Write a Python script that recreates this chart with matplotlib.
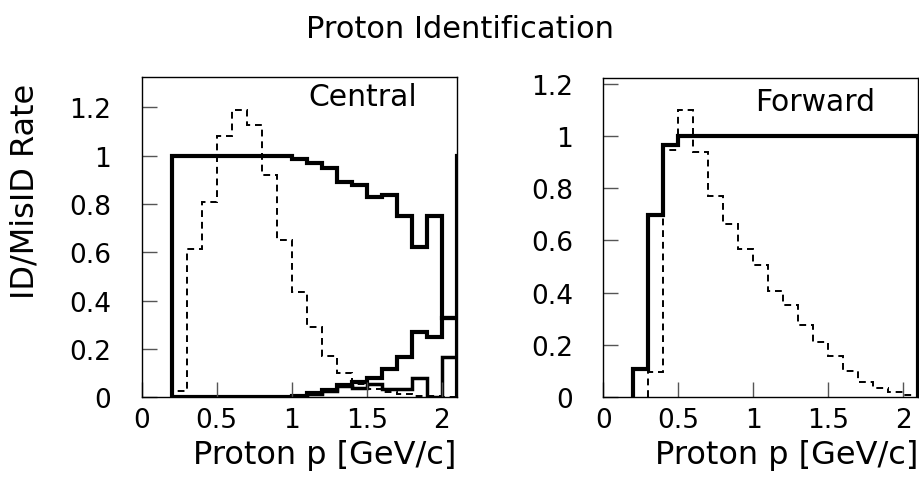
import matplotlib
matplotlib.use("Agg")
import matplotlib.pyplot as plt

# bin edges (GeV/c), 0.1 wide
central_edges = [0.2, 0.3, 0.4, 0.5, 0.6, 0.7, 0.8, 0.9, 1.0, 1.1, 1.2,
                 1.3, 1.4, 1.5, 1.6, 1.7, 1.8, 1.9, 2.0, 2.1, 2.2]
# central: proton ID rate and two misID rates, plus momentum spectrum (dashed)
central_id = [1.0, 1.0, 1.0, 1.0, 1.0, 1.0, 1.0, 0.997, 0.986, 0.969,
              0.947, 0.892, 0.878, 0.83, 0.837, 0.75, 0.62, 0.75, 0.33, 1.0]
central_mis1 = [0, 0, 0, 0, 0, 0, 0, 0, 0.005, 0.017,
                0.03, 0.05, 0.062, 0.08, 0.117, 0.165, 0.27, 0.25, 0.33, 0]
central_mis2 = [0, 0, 0, 0, 0, 0, 0, 0, 0.003, 0.012,
                0.025, 0.045, 0.04, 0.055, 0.034, 0.034, 0.08, 0.0, 0.165, 0]
central_spec = [0.028, 0.614, 0.807, 1.082, 1.19, 1.127, 0.92, 0.652, 0.437, 0.29,
                0.17, 0.10, 0.055, 0.034, 0.02, 0.014, 0.006, 0.004, 0.002, 0]

forward_id_edges = [0.2, 0.3, 0.4, 0.5, 2.1]
forward_id = [0.108, 0.698, 0.966, 1.0]
forward_spec_edges = [0.3, 0.4, 0.5, 0.6, 0.7, 0.8, 0.9, 1.0, 1.1, 1.2, 1.3,
                      1.4, 1.5, 1.6, 1.7, 1.8, 1.9, 2.0, 2.1]
forward_spec = [0.096, 0.947, 1.1, 0.937, 0.771, 0.663, 0.567, 0.506, 0.408,
                0.353, 0.278, 0.213, 0.159, 0.102, 0.06, 0.034, 0.019, 0.007]

xticks = [0, 0.5, 1, 1.5, 2]
xticklabels = ["0", "0.5", "1", "1.5", "2"]
yticks = [0, 0.2, 0.4, 0.6, 0.8, 1.0, 1.2]
yticklabels = ["0", "0.2", "0.4", "0.6", "0.8", "1", "1.2"]

plt.rcParams['font.family'] = ['DejaVu Sans']
fs = 19
dash = (0, (3.5, 2.5))

fig = plt.figure(figsize=(9.19, 4.85), dpi=100)
ax1 = fig.add_axes([0.1542, 0.1788, 0.3428, 0.6598])
ax2 = fig.add_axes([0.6565, 0.1788, 0.3428, 0.6577])

ax1.stairs(central_id, central_edges, baseline=0, color='k', lw=3)
ax1.stairs(central_mis1, central_edges, baseline=0, color='k', lw=3)
ax1.stairs(central_mis2, central_edges, baseline=0, color='k', lw=2.5)
ax1.stairs(central_spec, central_edges, baseline=0, color='k', lw=1.4, linestyle=dash)
ax1.set_ylim(0, 1.324)
ax1.text(0.70, 0.94, "Central", transform=ax1.transAxes, ha='center', va='center', fontsize=21.5)

ax2.stairs(forward_id, forward_id_edges, baseline=0, color='k', lw=3)
ax2.stairs(forward_spec, forward_spec_edges, baseline=0, color='k', lw=1.4, linestyle=dash)
ax2.set_ylim(0, 1.22)
ax2.text(0.672, 0.926, "Forward", transform=ax2.transAxes, ha='center', va='center', fontsize=21.5)

for ax in (ax1, ax2):
    ax.set_xlim(0, 2.1)
    ax.set_xticks(xticks, xticklabels)
    ax.set_yticks(yticks, yticklabels)
    ax.tick_params(direction='in', length=11, width=1, labelsize=fs, color='#555555')
    ax.tick_params(axis='y', pad=22)
    ax.tick_params(axis='x', pad=7)
    for s in ax.spines.values():
        s.set_linewidth(1)
    ax.text(1.0, -0.18, "Proton p [GeV/c]", transform=ax.transAxes,
            ha='right', va='center', fontsize=23)

fig.text(0.5, 1 - 30 / 485, "Proton Identification", ha='center', va='center', fontsize=22)
fig.text(25 / 919, 1 - 84 / 485, "ID/MisID Rate", rotation=90, ha='center', va='top', fontsize=23)

fig.savefig("out.png", dpi=100)
